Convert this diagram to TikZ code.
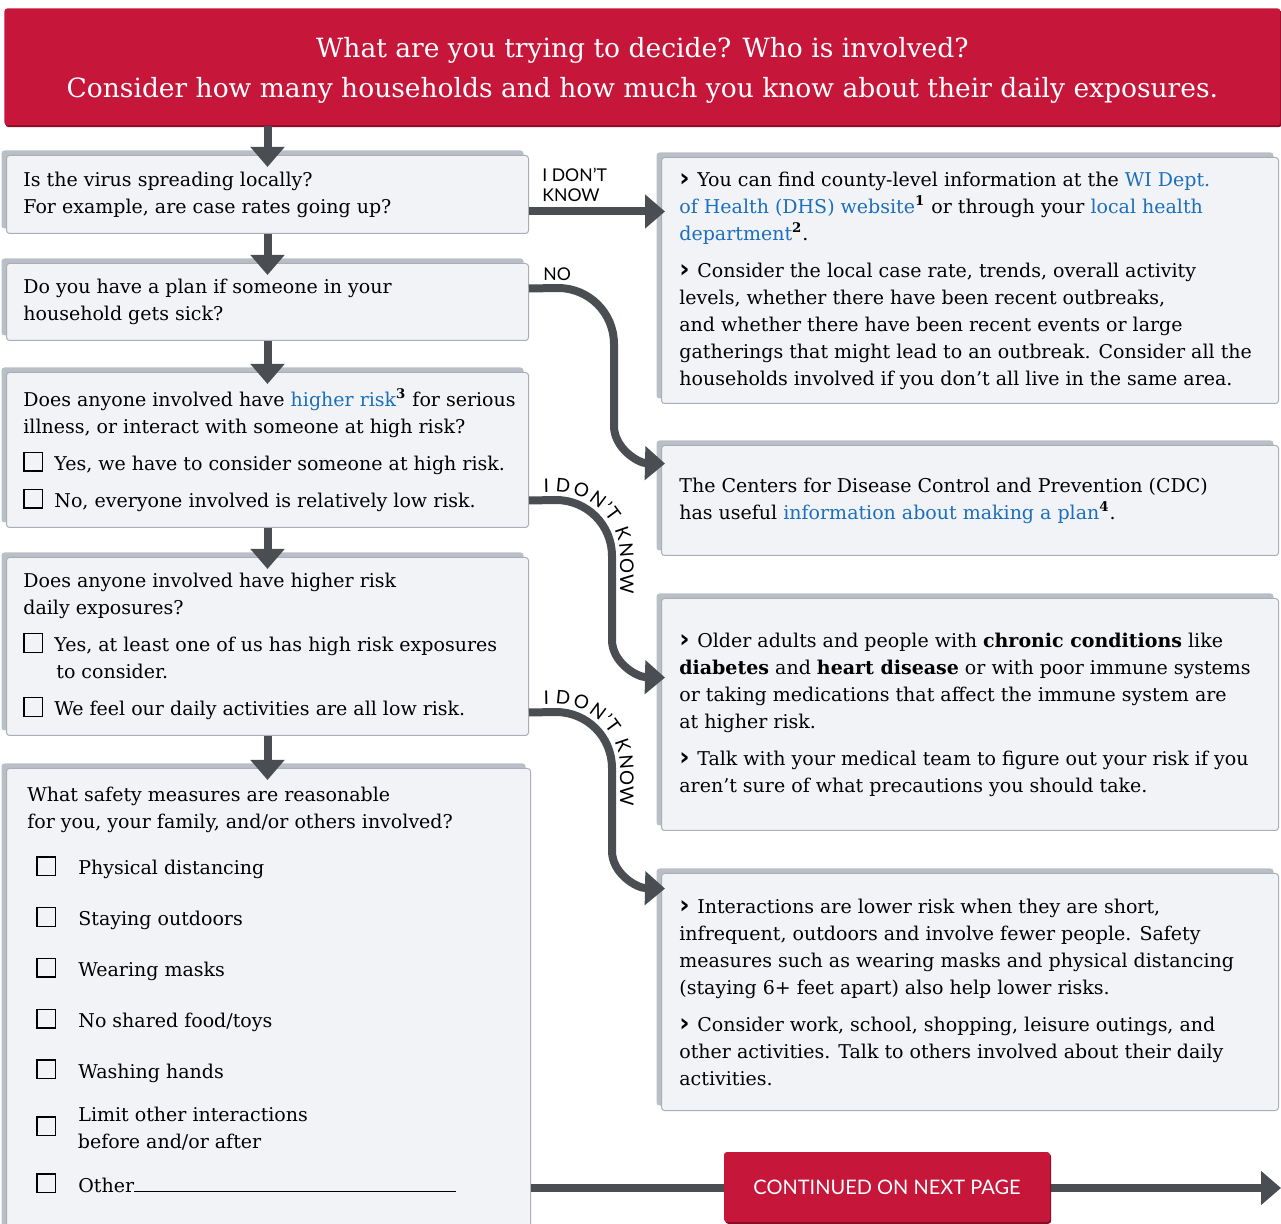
\documentclass[tikz,border=0pt]{standalone}
\usepackage{fontspec}
\setmainfont{DejaVu Serif}
\newfontfamily\labelfont{Lato}
\newfontfamily\chevfont{DejaVu Sans}
\usetikzlibrary{positioning,shadows,arrows.meta,decorations.text}

\definecolor{headred}{RGB}{198,22,58}
\definecolor{boxfill}{RGB}{241,243,246}
\definecolor{boxline}{RGB}{170,175,183}
\definecolor{boxshade}{RGB}{186,191,199}
\definecolor{arrowgray}{RGB}{74,77,82}
\definecolor{linkblue}{RGB}{28,110,190}

\newcommand{\link}[1]{\textcolor{linkblue}{#1}}
\newcommand{\refnum}[1]{\textsuperscript{\textbf{#1}}}
\newcommand{\tickbox}{{\setlength{\fboxsep}{0pt}\setlength{\fboxrule}{0.7pt}\fbox{\rule{0pt}{8.6pt}\hspace{8.6pt}}}}
\newcommand{\chev}{{\chevfont\bfseries\fontsize{12.5}{12}\selectfont ›}\hspace{0.4em}}

\tikzset{
  box/.style={draw=boxline, line width=0.5pt, fill=boxfill, rounded corners=1.5pt, anchor=north west,
    general shadow={fill=boxshade, shadow xshift=-2.5pt, shadow yshift=2.5pt}},
  redbox/.style={fill=headred, text=white, rounded corners=1.5pt,
    general shadow={fill=headred!65!black, shadow xshift=0.6pt, shadow yshift=-0.9pt}},
  txt/.style={align=left, inner sep=0pt, font=\fontsize{9.5}{13.5}\selectfont},
  lbl/.style={align=left, inner sep=0pt, font=\labelfont\fontsize{8.8}{10}\selectfont},
  flow/.style={draw=arrowgray, line width=4pt, -{Triangle[width=16.5pt,length=10pt]}},
  arclabel/.style={decorate, decoration={text along path, raise=4pt, text align={left indent=7.5pt},
    text={|\labelfont\fontsize{9.4}{10}\selectfont|I {\kern0.2pt}D{\kern0.2pt}O{\kern0.2pt}N’T {\kern0.2pt}K{\kern0.2pt}N{\kern0.2pt}O{\kern0.2pt}W}}},
}

\begin{document}
\begin{tikzpicture}[x=0.5pt,y=-0.5pt]
\useasboundingbox (0,0) rectangle (1281,1224);
\clip (0,0) rectangle (1281,1224);

% header
\node[redbox, anchor=north west, minimum width=638pt, minimum height=58.5pt, align=center,
  font=\fontsize{13.25}{20}\selectfont] (head) at (4,8)
  {\rule{0pt}{13.5pt}What are you trying to decide? Who is involved?\\
   Consider how many households and how much you know about their daily exposures.};

% questions
\node[box, minimum width=261pt, minimum height=39pt] (q1) at (6,155) {};
\node[box, minimum width=261pt, minimum height=38.5pt] (q2) at (6,263) {};
\node[box, minimum width=261pt, minimum height=77.5pt] (q3) at (6,372) {};
\node[box, minimum width=261pt, minimum height=89pt] (q4) at (6,557) {};
\node[box, minimum width=262pt, minimum height=235pt] (q5) at (6,768) {};

% answers
\node[box, minimum width=308.5pt, minimum height=123pt] (ra) at (661,157) {};
\node[box, minimum width=308.5pt, minimum height=55pt] (rb) at (661,445) {};
\node[box, minimum width=308.5pt, minimum height=116pt] (rc) at (661,598) {};
\node[box, minimum width=308.5pt, minimum height=118.5pt] (rd) at (661,873) {};

% texts
\node[txt, right=8.5pt of q1.west] (q1t)
  {Is the virus spreading locally?\\
   For example, are case rates going up?};
\node[txt, right=8.5pt of q2.west] (q2t)
  {Do you have a plan if someone in your\\
   household gets sick?};
\node[txt, right=8.5pt of q3.west] (q3t)
  {Does anyone involved have \link{higher risk}\refnum{3} for serious\\
   illness, or interact with someone at high risk?\\[5pt]
   \tickbox\hspace{5.5pt}Yes, we have to consider someone at high risk.\\[5pt]
   \tickbox\hspace{5.5pt}No, everyone involved is relatively low risk.};
\node[txt, right=8.5pt of q4.west] (q4t)
  {Does anyone involved have higher risk\\
   daily exposures?\\[5pt]
   \tickbox\hspace{5.5pt}Yes, at least one of us has high risk exposures\\
   \hspace*{16.5pt}to consider.\\[5pt]
   \tickbox\hspace{5.5pt}We feel our daily activities are all low risk.};
\node[txt, below right=9.5pt and 10.5pt of q5.north west] (q5t)
  {What safety measures are reasonable\\
   for you, your family, and/or others involved?\\[9.5pt]
   \hspace*{4.5pt}\tickbox\hspace{11pt}Physical distancing\\[11.9pt]
   \hspace*{4.5pt}\tickbox\hspace{11pt}Staying outdoors\\[11.9pt]
   \hspace*{4.5pt}\tickbox\hspace{11pt}Wearing masks\\[11.9pt]
   \hspace*{4.5pt}\tickbox\hspace{11pt}No shared food/toys\\[11.9pt]
   \hspace*{4.5pt}\tickbox\hspace{11pt}Washing hands\\[8pt]
   \hspace*{4.5pt}\raisebox{-7pt}[0pt][0pt]{\tickbox}\hspace{11pt}Limit other interactions\\
   \hspace*{25.3pt}before and/or after\\[8.5pt]
   \hspace*{4.5pt}\tickbox\hspace{11pt}Other\rule{161pt}{0.5pt}};

\node[txt, right=9pt of ra.west] (rat)
  {\chev You can find county-level information at the \link{WI Dept.}\\
   \link{of Health (DHS) website}\refnum{1} or through your \link{local health}\\
   \link{department}\refnum{2}.\\[5pt]
   \chev Consider the local case rate, trends, overall activity\\
   levels, whether there have been recent outbreaks,\\
   and whether there have been recent events or large\\
   gatherings that might lead to an outbreak. Consider all the\\
   households involved if you don't all live in the same area.};
\node[txt, right=9pt of rb.west] (rbt)
  {The Centers for Disease Control and Prevention (CDC)\\
   has useful \link{information about making a plan}\refnum{4}.};
\node[txt, right=9pt of rc.west] (rct)
  {\chev Older adults and people with \textbf{chronic conditions} like\\
   \textbf{diabetes} and \textbf{heart disease} or with poor immune systems\\
   or taking medications that affect the immune system are\\
   at higher risk.\\[5pt]
   \chev Talk with your medical team to figure out your risk if you\\
   aren't sure of what precautions you should take.};
\node[txt, right=9pt of rd.west] (rdt)
  {\chev Interactions are lower risk when they are short,\\
   infrequent, outdoors and involve fewer people. Safety\\
   measures such as wearing masks and physical distancing\\
   (staying 6+ feet apart) also help lower risks.\\[5pt]
   \chev Consider work, school, shopping, leisure outings, and\\
   other activities. Talk to others involved about their daily\\
   activities.};

% main flow
\draw[flow] (q1.north |- head.south) -- ([yshift=-6pt]q1.north);
\draw[flow] (q1.south) -- ([yshift=-6pt]q2.north);
\draw[flow] (q2.south) -- ([yshift=-6pt]q3.north);
\draw[flow] (q3.south) -- ([yshift=-6pt]q4.north);
\draw[flow] (q4.south) -- ([yshift=-6pt]q4.south |- q5.north);

% side branches
\coordinate (s1) at ([yshift=-8.5pt]q1.east);
\coordinate (s2) at ([yshift=6.75pt]q2.east);
\coordinate (s3) at ([yshift=-25.25pt]q3.east);
\coordinate (s4) at ([yshift=-33pt]q4.east);
\draw[flow, shorten >=-2pt] (s1) -- (s1 -| ra.west);
\draw[flow, shorten >=-2pt] (s2) -- (558,288) .. controls (589,288) and (614,313) .. (614,344)
  -- (614,426) .. controls (614,448) and (638,463) .. ([yshift=18.5pt]rb.west);
\draw[flow, shorten >=-2pt] (s3) -- (556,500) .. controls (587,500) and (612,525) .. (612,556)
  -- (612,640) .. controls (612,662) and (636,677) .. ([yshift=18.5pt]rc.west);
\draw[flow, shorten >=-2pt] (s4) -- (556,712) .. controls (587,712) and (612,737) .. (612,768)
  -- (612,851) .. controls (612,873) and (636,888) .. ([yshift=51.75pt]rd.west);

\node[lbl, above right=4.5pt and 6.5pt of s1] (dk1) {I DON’T\\KNOW};
\node[lbl, above right=3.5pt and 7pt of s2] (no) {NO};
\path[arclabel] (s3) -- (556,500) .. controls (587,500) and (612,525) .. (612,556) -- (612,620);
\path[arclabel] (s4) -- (556,712) .. controls (587,712) and (612,737) .. (612,768) -- (612,832);

% continue
\coordinate (pageend) at (1281,1188);
\draw[flow] (q5.east |- pageend) -- (pageend);
\node[redbox, minimum width=163pt, minimum height=35pt, font=\labelfont\fontsize{10}{12}\selectfont]
  (cont) at (887,1187) {CONTINUED ON NEXT PAGE};
\end{tikzpicture}
\end{document}
